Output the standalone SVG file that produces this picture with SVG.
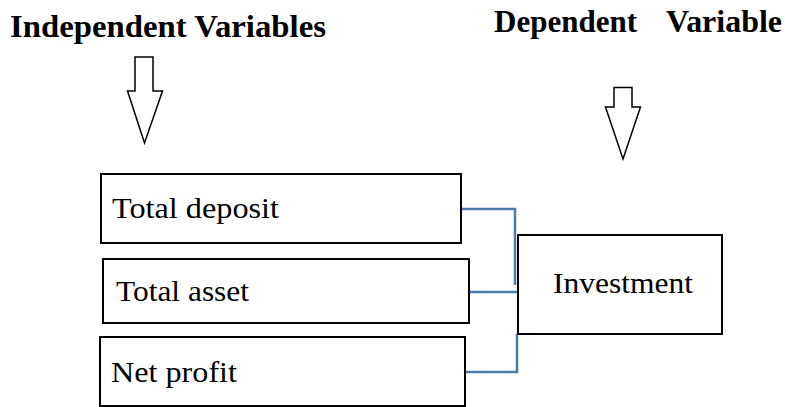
<svg xmlns="http://www.w3.org/2000/svg" width="785" height="407" viewBox="0 0 785 407">
<style>
.box{fill:#fff;stroke:#000;stroke-width:2}
.arr{fill:#fff;stroke:#000;stroke-width:1.5;stroke-linejoin:miter}
.t{font-family:"Liberation Serif","Times New Roman",serif;font-size:30px;fill:#000}
.h{font-family:"Liberation Serif","Times New Roman",serif;font-size:31px;font-weight:bold;fill:#000}
.c{fill:none;stroke:#4a7eb0;stroke-width:2.5}
</style>
<rect width="785" height="407" fill="#fff"/>
<g id="header-independent">
<text class="h" x="10" y="37" textLength="316" lengthAdjust="spacingAndGlyphs">Independent Variables</text>
<path class="arr" d="M135,57 H153 V91 H162.5 L144.5,143 L127.5,91 H135 Z"/>
</g>
<g id="header-dependent">
<text class="h" x="494" y="32" textLength="143" lengthAdjust="spacingAndGlyphs">Dependent</text>
<text class="h" x="666" y="32" textLength="116" lengthAdjust="spacingAndGlyphs">Variable</text>
<path class="arr" d="M614,87.5 H632 V107 H640.5 L623,159 L605.5,107 H614 Z"/>
</g>
<g id="connectors">
<path class="c" d="M461,209 H515 V285"/>
<path class="c" d="M469,292 H518"/>
<path class="c" d="M465,372 H517 V334"/>
</g>
<g id="node-total-deposit">
<rect class="box" x="101" y="174" width="360" height="69"/>
<text class="t" x="112" y="218" textLength="167" lengthAdjust="spacingAndGlyphs">Total deposit</text>
</g>
<g id="node-total-asset">
<rect class="box" x="103" y="259" width="366" height="64"/>
<text class="t" x="116" y="301" textLength="133" lengthAdjust="spacingAndGlyphs">Total asset</text>
</g>
<g id="node-net-profit">
<rect class="box" x="100" y="337" width="365" height="69"/>
<text class="t" x="111" y="382" textLength="126" lengthAdjust="spacingAndGlyphs">Net profit</text>
</g>
<g id="node-investment">
<rect class="box" x="518" y="235" width="204" height="99"/>
<text class="t" x="553" y="293" textLength="140" lengthAdjust="spacingAndGlyphs">Investment</text>
</g>
</svg>
